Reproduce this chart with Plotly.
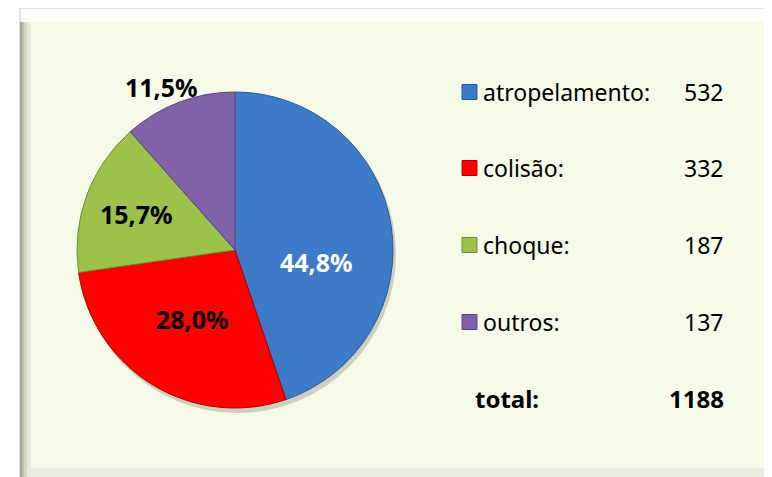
import math
import plotly.graph_objects as go

# ---- data ----
categories = ["atropelamento", "colisão", "choque", "outros"]
values = [532, 332, 187, 137]
pct_labels = ["44,8%", "28,0%", "15,7%", "11,5%"]
total_label = "total:"
total_value = sum(values)

# ---- styles ----
colors = ["#3D7BC8", "#FF0000", "#9DC24C", "#8062A8"]
line_colors = ["#2A5A98", "#B00000", "#6E8C2E", "#5A4282"]
label_colors = ["white", "black", "black", "black"]
label_rfrac = [0.52, 0.51, 0.665, 1.13]     # label distance / radius
label_dang = [18.0, 0.0, 0.0, -3.4]         # angular nudge (deg)

W, H = 772, 477
OFF = 8  # page body margin


def px(x):
    return (x - OFF) / W


def py(y):
    return 1 - (y - OFF) / H


CX, CY, R = 235, 250, 158

fig = go.Figure()

fig.add_trace(go.Pie(
    labels=categories,
    values=values,
    sort=False,
    direction="clockwise",
    rotation=0,
    marker=dict(colors=colors, line=dict(color=line_colors, width=1)),
    textinfo="none",
    domain=dict(x=[px(CX - R), px(CX + R)], y=[py(CY + R), py(CY - R)]),
    showlegend=False,
    hoverinfo="label+value+percent",
))

PANEL = "#F6FAE9"
shapes = [
    dict(type="rect", xref="paper", yref="paper", layer="below",
         x0=px(20), x1=px(800), y0=py(500), y1=py(8),
         fillcolor=PANEL, line=dict(color="#CDD1C4", width=1)),
    # top highlight band
    dict(type="rect", xref="paper", yref="paper", layer="below",
         x0=px(21), x1=px(800), y0=py(22), y1=py(9),
         fillcolor="#FDFEF9", line=dict(width=0)),
    # bottom bevel band
    dict(type="rect", xref="paper", yref="paper", layer="below",
         x0=px(21), x1=px(800), y0=py(500), y1=py(468),
         fillcolor="#E9ECDE", line=dict(width=0)),
]
bevel = [(20, 22, "#A3AA96"), (22, 24, "#BCC2AF"), (24, 27, "#D3D8C7"), (27, 31, "#E7EBDC")]
for x0, x1, c in bevel:
    shapes.append(dict(type="rect", xref="paper", yref="paper", layer="below",
                       x0=px(x0), x1=px(x1), y0=py(500), y1=py(22),
                       fillcolor=c, line=dict(width=0)))
# pie shadow
shapes.append(dict(type="circle", xref="paper", yref="paper", layer="below",
                   x0=px(CX - R + 2), x1=px(CX + R + 3), y0=py(CY + R + 5), y1=py(CY - R + 3),
                   fillcolor="rgba(60,60,40,0.22)", line=dict(width=0)))

annotations = []

# percentage labels placed on the pie geometry from the data
tot = float(sum(values))
cum = 0.0
for v, txt, col, rf, da in zip(values, pct_labels, label_colors, label_rfrac, label_dang):
    mid = (cum + v / 2.0) / tot * 360.0 + da
    cum += v
    a = math.radians(mid)
    lx = CX + rf * R * math.sin(a)
    ly = CY - rf * R * math.cos(a)
    annotations.append(dict(x=px(lx), y=py(ly), xref="paper", yref="paper",
                            text="<b>" + txt + "</b>", showarrow=False,
                            xanchor="center", yanchor="middle",
                            font=dict(family="Noto Sans", size=25, color=col)))

row_y = [92, 168, 245, 322]
LEG_FONT = dict(family="Noto Sans", size=23, color="black")
for name, val, col, lc, y in zip(categories, values, colors, line_colors, row_y):
    shapes.append(dict(type="rect", xref="paper", yref="paper",
                       x0=px(462), x1=px(477), y0=py(y + 7.5), y1=py(y - 7.5),
                       fillcolor=col, line=dict(color=lc, width=1)))
    annotations.append(dict(x=px(481), y=py(y), xref="paper", yref="paper",
                            text=name + ":", showarrow=False, xanchor="left", yanchor="middle",
                            font=LEG_FONT))
    annotations.append(dict(x=px(725), y=py(y), xref="paper", yref="paper",
                            text=str(val), showarrow=False, xanchor="right", yanchor="middle",
                            font=LEG_FONT))

annotations.append(dict(x=px(473), y=py(398), xref="paper", yref="paper",
                        text="<b>" + total_label + "</b>", showarrow=False, xanchor="left",
                        yanchor="middle", font=dict(family="Noto Sans", size=24, color="black")))
annotations.append(dict(x=px(726), y=py(398), xref="paper", yref="paper",
                        text="<b>" + str(total_value) + "</b>", showarrow=False, xanchor="right",
                        yanchor="middle", font=dict(family="Noto Sans", size=24, color="black")))

fig.update_layout(
    width=W, height=H,
    margin=dict(l=0, r=0, t=0, b=0),
    paper_bgcolor="white",
    plot_bgcolor="white",
    shapes=shapes,
    annotations=annotations,
)

fig.write_html("out.html")
